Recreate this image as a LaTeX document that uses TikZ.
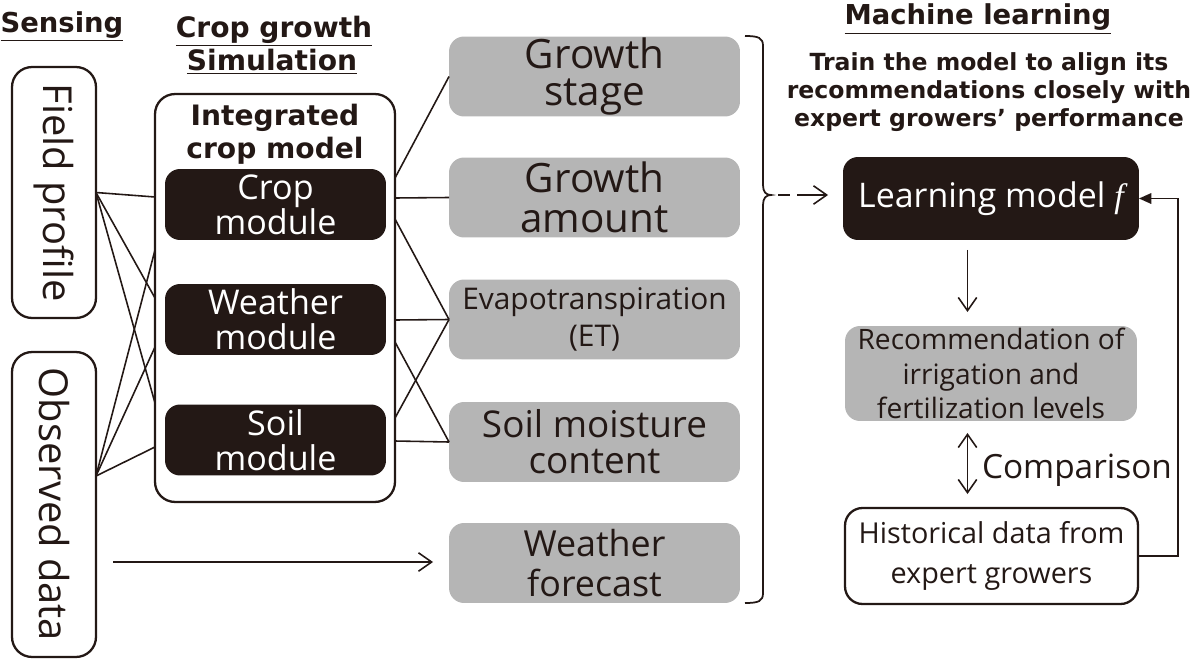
\documentclass[tikz,border=0pt]{standalone}
\usepackage{fontspec}
\setmainfont{Open Sans}
\newfontfamily\hfont{DejaVu Sans}
\newfontfamily\ffont{Liberation Serif}
\usetikzlibrary{arrows.meta,calc}
\definecolor{ink}{HTML}{231815}
\definecolor{grayfill}{HTML}{B5B5B5}
\newcommand\fsz[2]{\fontsize{#1}{#2}\selectfont}
\begin{document}
\begin{tikzpicture}[x=0.02cm,y=-0.02cm,color=ink,
  every node/.style={inner sep=0pt,outer sep=0pt},
  sensebox/.style={draw=ink,line width=1.3pt,rounded corners=0.4cm,rotate=-90,minimum height=1.68cm,font=\fsz{22.7}{24}},
  outerbox/.style={draw=ink,line width=1.3pt,rounded corners=0.4cm},
  module/.style={fill=ink,text=white,rounded corners=0.3cm,minimum width=4.42cm,minimum height=1.42cm,align=center,font=\fsz{19.4}{20}},
  graybox/.style={fill=grayfill,rounded corners=0.3cm,minimum width=5.82cm,minimum height=1.6cm,align=center},
  whitebox/.style={draw=ink,line width=1.3pt,rounded corners=0.35cm,align=center},
  heading/.style={font=\hfont\bfseries\fsz{15.6}{18}},
  conn/.style={line width=0.9pt},
  barb/.tip={Straight Barb[length=7.5pt,width=10.5pt,line width=0.9pt]},
  arr/.style={conn,-barb},
  darr/.style={conn,barb-barb},
  farr/.style={conn,-{Triangle[length=7pt,width=6pt]}}
]
\useasboundingbox (0,0) rectangle (1200,659);

% headings
\node[heading,anchor=base] (hsens) at (62,32) {\underline{Sensing}};
\node[heading,anchor=base,font=\hfont\bfseries\fsz{16}{18}] (hcg1) at (274,37) {\underline{Crop growth}};
\node[heading,anchor=base,font=\hfont\bfseries\fsz{16}{18}] (hcg2) at (272,70) {\underline{Simulation}};
\node[heading,anchor=base,font=\hfont\bfseries\fsz{15.6}{18}] (hml) at (978,25) {\underline{Machine learning}};
\node[heading,align=center,font=\hfont\bfseries\fsz{13.4}{16}] (htrain) at (989,92)
  {Train the model to align its\\recommendations closely with\\expert growers’ performance};

% sensing boxes
\node[sensebox,minimum width=5.02cm] (field) at (54,192.5) {Field profile};
\node[sensebox,minimum width=6.1cm] (obs) at (54,504.5) {Observed data};

% integrated crop model
\node[outerbox,minimum width=4.8cm,minimum height=8.16cm] (icm) at (275,298) {};
\node[align=center,font=\hfont\bfseries\fsz{16}{18.5}] (icmt) at (275,134) {Integrated\\crop model};
\node[module] (crop) at (275.5,204.5) {Crop\\module};
\node[module] (weath) at (275.5,319.5) {Weather\\module};
\node[module] (soil) at (275.5,440) {Soil\\module};

% outputs
\node[graybox,font=\fsz{23}{21.5}] (gs) at (594.5,76.5) {Growth\\stage};
\node[graybox,font=\fsz{23}{23}] (ga) at (594.5,197.5) {Growth\\amount};
\node[graybox,font=\fsz{17}{21}] (et) at (594.5,319.5) {Evapotranspiration\\(ET)};
\node[graybox,font=\fsz{21}{20.5}] (sm) at (594.5,442) {Soil moisture\\content};
\node[graybox,font=\fsz{20.4}{23}] (wf) at (594.5,563) {Weather\\forecast};

% machine learning
\node[fill=ink,text=white,rounded corners=0.3cm,minimum width=5.92cm,minimum height=1.66cm,font=\fsz{19.3}{20}] (lm) at (991,198.5) {Learning model {\ffont\itshape f}};
\node[graybox,minimum width=5.84cm,minimum height=1.9cm,font=\fsz{16}{19.5}] (rec) at (991,373.5) {Recommendation of\\irrigation and\\fertilization levels};
\node[whitebox,minimum width=5.86cm,minimum height=1.92cm,font=\fsz{16.4}{22.5}] (hist) at (991.5,556) {Historical data from\\expert growers};
\node[anchor=base west,font=\fsz{19}{20}] (cmp) at (982,478) {Comparison};

% coordinates
\coordinate (fo) at (96,476);
\coordinate (L1) at (155,197);
\coordinate (L2) at (155,298);
\coordinate (L3) at (155,403);
\coordinate (L4) at (155,447);
\coordinate (L5) at (155,347);
\coordinate (L6) at (155,250);
\coordinate (R1) at (395,178);
\coordinate (R2) at (395,198);
\coordinate (R3) at (395,219);
\coordinate (R4) at (395,320);
\coordinate (R5) at (395,418);
\coordinate (R6) at (395,342);
\coordinate (R7) at (395,441);
\coordinate (oa) at (113,562);
\coordinate (bt) at (771,195);
\coordinate (fb) at (1178,556);
\coordinate (ax) at (967.5,0);

% sensing -> model lines
\draw[conn] (field.north) -- (L1);
\draw[conn] (field.north) -- (L2);
\draw[conn] (field.north) -- (L3);
\draw[conn] (fo) -- (L4);
\draw[conn] (fo) -- (L5);
\draw[conn] (fo) -- (L6);

% model -> outputs lines
\draw[conn] (R1) -- (gs.west);
\draw[conn] (R2) -- (ga.west);
\draw[conn] (R3) -- (et.west);
\draw[conn] (R4) -- (et.west);
\draw[conn] (R5) -- (et.west);
\draw[conn] (R6) -- (sm.west);
\draw[conn] (R7) -- (sm.west);

% observed -> weather forecast
\draw[arr,shorten >=0.32cm] (oa) -- (oa -| wf.west);

% brace
\draw[line width=1pt] (745,36) .. controls (759,36) and (763,38) .. (763,46) -- (763,185)
  .. controls (763,192) and (766,195) .. (bt) .. controls (766,195) and (763,198) .. (763,205)
  -- (763,593) .. controls (763,601) and (759,603) .. (745,603);
\draw[arr,dash pattern=on 0pt off 4pt on 6.8pt off 4pt on 40pt,shorten >=0.3cm] (bt) -- (bt -| lm.west);

% ML flow
\draw[arr,shorten <=0.2cm,shorten >=0.28cm] (lm.south -| ax) -- (rec.north -| ax);
\draw[darr,shorten <=0.24cm,shorten >=0.28cm] (rec.south -| ax) -- (hist.north -| ax);
\draw[farr] (hist.east) -- (fb) |- (lm.east);
\end{tikzpicture}
\end{document}
